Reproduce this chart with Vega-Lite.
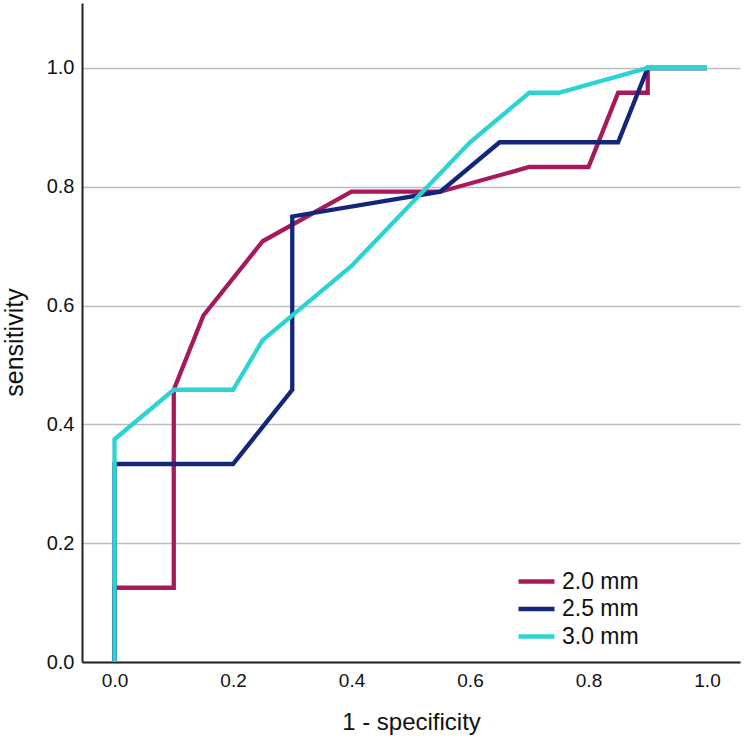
{
  "$schema": "https://vega.github.io/schema/vega-lite/v6.json",
  "autosize": {"type": "none"},
  "padding": {"left": 82, "top": 3, "right": 4, "bottom": 78},
  "width": 658,
  "height": 659,
  "background": "white",
  "config": {
    "font": "Liberation Sans",
    "view": {"stroke": null},
    "axis": {
      "domainColor": "#222222",
      "domainWidth": 2,
      "ticks": false,
      "labelColor": "#111111",
      "titleColor": "#111111",
      "titleFontWeight": "normal",
      "labelFont": "Liberation Sans",
      "titleFont": "Liberation Sans"
    }
  },
  "data": {
    "values": [
      {"size": "2.0 mm", "i": 0, "fpr": 0.0, "sens": 0.0},
      {"size": "2.0 mm", "i": 1, "fpr": 0.0, "sens": 0.125},
      {"size": "2.0 mm", "i": 2, "fpr": 0.1, "sens": 0.125},
      {"size": "2.0 mm", "i": 3, "fpr": 0.1, "sens": 0.4583},
      {"size": "2.0 mm", "i": 4, "fpr": 0.15, "sens": 0.5833},
      {"size": "2.0 mm", "i": 5, "fpr": 0.25, "sens": 0.7083},
      {"size": "2.0 mm", "i": 6, "fpr": 0.4, "sens": 0.7917},
      {"size": "2.0 mm", "i": 7, "fpr": 0.55, "sens": 0.7917},
      {"size": "2.0 mm", "i": 8, "fpr": 0.7, "sens": 0.8333},
      {"size": "2.0 mm", "i": 9, "fpr": 0.8, "sens": 0.8333},
      {"size": "2.0 mm", "i": 10, "fpr": 0.85, "sens": 0.9583},
      {"size": "2.0 mm", "i": 11, "fpr": 0.9, "sens": 0.9583},
      {"size": "2.0 mm", "i": 12, "fpr": 0.9, "sens": 1.0},
      {"size": "2.0 mm", "i": 13, "fpr": 1.0, "sens": 1.0},

      {"size": "2.5 mm", "i": 0, "fpr": 0.0, "sens": 0.0},
      {"size": "2.5 mm", "i": 1, "fpr": 0.0, "sens": 0.3333},
      {"size": "2.5 mm", "i": 2, "fpr": 0.2, "sens": 0.3333},
      {"size": "2.5 mm", "i": 3, "fpr": 0.3, "sens": 0.4583},
      {"size": "2.5 mm", "i": 4, "fpr": 0.3, "sens": 0.75},
      {"size": "2.5 mm", "i": 5, "fpr": 0.55, "sens": 0.7917},
      {"size": "2.5 mm", "i": 6, "fpr": 0.65, "sens": 0.875},
      {"size": "2.5 mm", "i": 7, "fpr": 0.85, "sens": 0.875},
      {"size": "2.5 mm", "i": 8, "fpr": 0.9, "sens": 1.0},
      {"size": "2.5 mm", "i": 9, "fpr": 1.0, "sens": 1.0},

      {"size": "3.0 mm", "i": 0, "fpr": 0.0, "sens": 0.0},
      {"size": "3.0 mm", "i": 1, "fpr": 0.0, "sens": 0.375},
      {"size": "3.0 mm", "i": 2, "fpr": 0.1, "sens": 0.4583},
      {"size": "3.0 mm", "i": 3, "fpr": 0.2, "sens": 0.4583},
      {"size": "3.0 mm", "i": 4, "fpr": 0.25, "sens": 0.5417},
      {"size": "3.0 mm", "i": 5, "fpr": 0.4, "sens": 0.6667},
      {"size": "3.0 mm", "i": 6, "fpr": 0.6, "sens": 0.875},
      {"size": "3.0 mm", "i": 7, "fpr": 0.7, "sens": 0.9583},
      {"size": "3.0 mm", "i": 8, "fpr": 0.75, "sens": 0.9583},
      {"size": "3.0 mm", "i": 9, "fpr": 0.9, "sens": 1.0},
      {"size": "3.0 mm", "i": 10, "fpr": 1.0, "sens": 1.0}
    ]
  },
  "mark": {"type": "line", "strokeWidth": 4.3, "strokeJoin": "miter", "strokeCap": "butt"},
  "encoding": {
    "x": {
      "field": "fpr",
      "type": "quantitative",
      "scale": {"domain": [-0.0549, 1.0557], "nice": false, "zero": false},
      "axis": {
        "title": "1 - specificity",
        "values": [0, 0.2, 0.4, 0.6, 0.8, 1.0],
        "format": ".1f",
        "grid": false,
        "labelFontSize": 19,
        "labelPadding": 9,
        "titleFontSize": 24,
        "titlePadding": 20
      }
    },
    "y": {
      "field": "sens",
      "type": "quantitative",
      "scale": {"domain": [0, 1.1094], "nice": false},
      "axis": {
        "title": "sensitivity",
        "values": [0, 0.2, 0.4, 0.6, 0.8, 1.0],
        "format": ".1f",
        "grid": true,
        "gridColor": "#bdbdbd",
        "gridWidth": 1.4,
        "labelFontSize": 20,
        "labelPadding": 8,
        "titleFontSize": 25,
        "titlePadding": 19,
        "titleY": 339
      }
    },
    "color": {
      "field": "size",
      "type": "nominal",
      "scale": {
        "domain": ["2.0 mm", "2.5 mm", "3.0 mm"],
        "range": ["#a8195c", "#13267a", "#2dd3d3"]
      },
      "legend": {
        "title": null,
        "orient": "none",
        "legendX": 440,
        "legendY": 564,
        "padding": 0,
        "symbolType": "M-1.5,0H1.5",
        "symbolSize": 576,
        "symbolStrokeWidth": 4.3,
        "labelFontSize": 23,
        "labelOffset": 11,
        "labelColor": "#111111",
        "rowPadding": 0.5
      }
    },
    "order": {"field": "i", "type": "quantitative"}
  }
}
